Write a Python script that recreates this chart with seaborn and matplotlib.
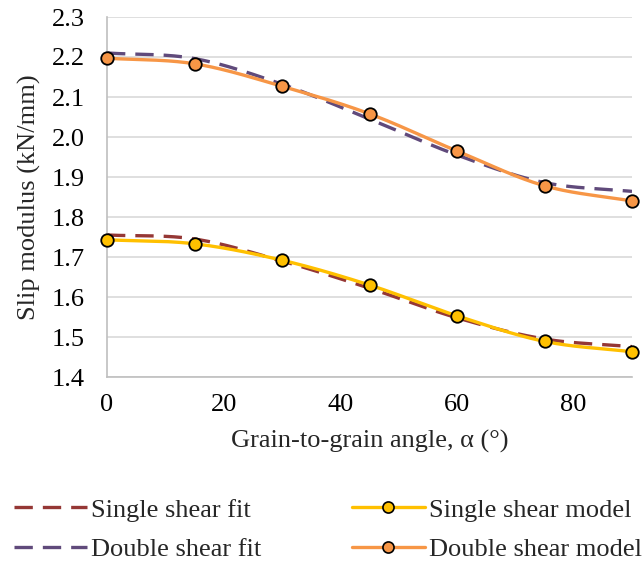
import numpy as np
import pandas as pd
import matplotlib
matplotlib.use("Agg")
import matplotlib.pyplot as plt
from matplotlib.lines import Line2D
import seaborn as sns

angles = [0, 15, 30, 45, 60, 75, 90]
single_fit = [1.755, 1.745, 1.690, 1.622, 1.548, 1.495, 1.476]
double_fit = [2.210, 2.196, 2.132, 2.045, 1.955, 1.886, 1.864]
single_model = [1.743, 1.733, 1.692, 1.630, 1.553, 1.489, 1.463]
double_model = [2.197, 2.183, 2.127, 2.058, 1.965, 1.878, 1.840]
x_ticks = [0, 20, 40, 60, 80]
y_ticks = [1.4, 1.5, 1.6, 1.7, 1.8, 1.9, 2.0, 2.1, 2.2, 2.3]

def smooth(xs, ys, n=30):
    # Catmull-Rom rendering like a spreadsheet "smoothed line"
    xs = np.asarray(xs, float); ys = np.asarray(ys, float)
    P = np.column_stack([xs, ys])
    P = np.vstack([2 * P[0] - P[1], P, 2 * P[-1] - P[-2]])
    out = []
    for i in range(1, len(P) - 2):
        p0, p1, p2, p3 = P[i - 1], P[i], P[i + 1], P[i + 2]
        t = np.linspace(0, 1, n, endpoint=(i == len(P) - 3))[:, None]
        seg = 0.5 * ((2 * p1) + (-p0 + p2) * t + (2 * p0 - 5 * p1 + 4 * p2 - p3) * t ** 2
                     + (-p0 + 3 * p1 - 3 * p2 + p3) * t ** 3)
        out.append(seg)
    out = np.vstack(out)
    return out[:, 0], out[:, 1]

sns.set_style("white")
plt.rcParams["font.family"] = ["Liberation Serif", "DejaVu Serif"]
FS = 19
plt.rcParams["font.size"] = FS

fig = plt.figure(figsize=(6.44, 5.65), dpi=100)
ax = fig.add_axes([107 / 644, 1 - 377 / 565, (632 - 107) / 644, (377 - 17) / 565])

c_sf = "#953735"
c_df = "#604A7B"
c_sm = "#FFC000"
c_dm = "#F79646"
lw = 2.4
dash = (5.5, 3)

for ys, col in [(single_fit, c_sf), (double_fit, c_df)]:
    sx, sy = smooth(angles, ys)
    sns.lineplot(x=sx, y=sy, ax=ax, color=col, lw=lw, sort=False, estimator=None,
                 dashes=False, linestyle=(0, dash), zorder=2)

for ys, col in [(single_model, c_sm), (double_model, c_dm)]:
    sx, sy = smooth(angles, ys)
    sns.lineplot(x=sx, y=sy, ax=ax, color=col, lw=lw, sort=False, estimator=None, zorder=3)
    ax.plot(angles, ys, linestyle="none", marker="o", ms=9, mfc=col, mec="black", mew=1.3,
            zorder=4, clip_on=False)

ax.set_xlim(0, 90)
ax.set_ylim(1.4, 2.3)
ax.set_xticks(x_ticks)
ax.set_yticks(y_ticks)
ax.set_yticklabels([f"{v:.1f}" for v in y_ticks])
ax.grid(axis="y", color="#d9d9d9", lw=1.2)
ax.set_axisbelow(True)
for s in ["top", "right"]:
    ax.spines[s].set_visible(False)
for s in ["left", "bottom"]:
    ax.spines[s].set_color("#bfbfbf")
    ax.spines[s].set_linewidth(1.2)
ax.tick_params(axis="both", which="both", direction="out", length=5, width=1.2,
               color="#bfbfbf", labelsize=FS, labelcolor="black")
ax.tick_params(axis="y", pad=11)
ax.tick_params(axis="x", pad=7)
ax.set_xlabel("Grain-to-grain angle, α (°)", fontsize=FS, labelpad=10)
ax.set_ylabel("Slip modulus (kN/mm)", fontsize=FS, labelpad=8)

fit_handles = [
    Line2D([], [], color=c_sf, lw=lw, linestyle=(0, (5.5, 3))),
    Line2D([], [], color=c_df, lw=lw, linestyle=(0, (5.5, 3))),
]
model_handles = [
    Line2D([], [], color=c_sm, lw=lw, marker="o", ms=8, mfc=c_sm, mec="black", mew=1.2),
    Line2D([], [], color=c_dm, lw=lw, marker="o", ms=8, mfc=c_dm, mec="black", mew=1.2),
]
kw = dict(loc="lower left", frameon=False, fontsize=FS, handlelength=2.75,
          handletextpad=0.15, labelspacing=0.6, borderaxespad=0.0, borderpad=0.0)
leg1 = fig.legend(fit_handles, ["Single shear fit", "Double shear fit"],
                  bbox_to_anchor=(14 / 644, 4 / 565), **kw)
leg2 = fig.legend(model_handles, ["Single shear model", "Double shear model"],
                  bbox_to_anchor=(352 / 644, 4 / 565), **kw)

fig.savefig("out.png", dpi=100)
